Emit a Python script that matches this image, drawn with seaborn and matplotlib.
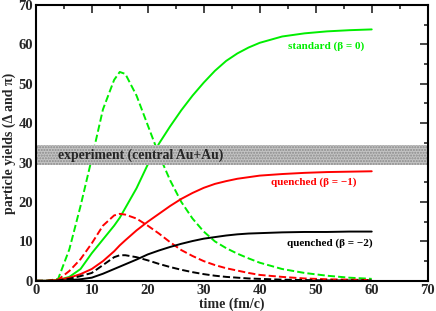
import matplotlib
matplotlib.use("Agg")
import matplotlib.pyplot as plt
import seaborn as sns
from matplotlib.ticker import MultipleLocator

# time grid (fm/c)
time = [0, 2, 4, 6, 8, 10, 12, 14, 15, 16, 18, 20, 22, 24, 26, 28, 30,
        32, 34, 36, 38, 40, 44, 48, 52, 56, 60]

# solid = final yields, dashed = yields present at time t
standard_solid = [0, 0, 0.2, 1, 3, 7, 10.5, 14, 16, 18.5, 23.5, 29.5, 34.8, 39.2, 43.3, 47,
                  50.3, 53.3, 55.8, 57.7, 59.2, 60.4, 62, 62.8, 63.3, 63.6, 63.8]
standard_dashed = [0, 0, 0.5, 8, 19, 31, 43.5, 51, 53, 52.5, 47, 39.5, 32, 25.5, 20, 15.8,
                   12.5, 10, 8.3, 6.9, 5.7, 4.6, 3, 2, 1.3, 0.8, 0.5]
q1_solid = [0, 0, 0.2, 0.8, 1.7, 3, 5, 7.5, 9, 10.3, 12.8, 15, 17, 19, 20.8, 22.3,
            23.6, 24.6, 25.3, 25.9, 26.3, 26.7, 27.1, 27.4, 27.6, 27.7, 27.8]
q1_dashed = [0, 0, 0.3, 2.5, 5.5, 9.5, 14, 16.6, 17, 16.8, 15.8, 14, 12, 9.8, 7.8, 6.3,
             5, 4, 3.2, 2.6, 2, 1.5, 1, 0.6, 0.4, 0.3, 0.2]
q2_solid = [0, 0, 0, 0.2, 0.4, 0.8, 1.8, 3, 3.6, 4.2, 5.4, 6.7, 7.7, 8.6, 9.4, 10.1,
            10.7, 11.1, 11.5, 11.8, 12, 12.1, 12.3, 12.4, 12.4, 12.5, 12.5]
q2_dashed = [0, 0, 0.1, 0.5, 1.2, 2, 4, 6, 6.5, 6.5, 6, 5.2, 4.3, 3.5, 2.8, 2.2,
             1.7, 1.3, 1, 0.8, 0.6, 0.5, 0.3, 0.2, 0.1, 0.1, 0.1]

experiment_band = (29.5, 34.5)

sns.set_style("white")
plt.rcParams["font.family"] = ["Liberation Serif", "DejaVu Serif"]
plt.rcParams["font.weight"] = "bold"

fig = plt.figure(figsize=(4.36, 3.11), dpi=100)
ax = fig.add_axes([0.082, 0.097, 0.899, 0.887])

# band sits on top of the curves, as in the original
ax.axhspan(*experiment_band, facecolor="#c4c4c4", edgecolor="#8a8a8a",
           hatch="......", linewidth=0, zorder=3)

series = [
    (standard_solid, "#00ee00", "-"), (standard_dashed, "#00ee00", "--"),
    (q1_solid, "#ff0000", "-"), (q1_dashed, "#ff0000", "--"),
    (q2_solid, "black", "-"), (q2_dashed, "black", "--"),
]
for vals, col, ls in series:
    sns.lineplot(x=time, y=vals, color=col, linestyle=ls, linewidth=1.4, ax=ax,
                 **({"dashes": (4.5, 2.2)} if ls == "--" else {}))

ax.text(3.9, 31.9, "experiment (central Au+Au)", fontsize=9.8, fontweight="bold",
        va="center", ha="left", zorder=4)
ax.text(58.6, 59.6, "standard (β = 0)", color="#00ee00", fontsize=8,
        fontweight="bold", ha="right", va="center")
ax.text(57.2, 25.1, "quenched (β = −1)", color="#ff0000", fontsize=8,
        fontweight="bold", ha="right", va="center")
ax.text(60.1, 9.5, "quenched (β = −2)", color="black", fontsize=8,
        fontweight="bold", ha="right", va="center")

ax.set_xlim(0, 70)
ax.set_ylim(0, 70)
ax.xaxis.set_major_locator(MultipleLocator(10))
ax.xaxis.set_minor_locator(MultipleLocator(5))
ax.yaxis.set_major_locator(MultipleLocator(10))
ax.yaxis.set_minor_locator(MultipleLocator(5))
ax.tick_params(which="both", direction="in", top=True, right=True,
               labelsize=10.5, width=1.2, pad=2)
ax.tick_params(which="major", length=6)
ax.tick_params(which="minor", length=3)
for lab in ax.get_xticklabels() + ax.get_yticklabels():
    lab.set_fontweight("bold")
for sp in ax.spines.values():
    sp.set_linewidth(1.5)
    sp.set_color("black")
    sp.set_zorder(5)

ax.set_xlabel("time (fm/c)", fontsize=10, fontweight="bold", labelpad=1)
ax.set_ylabel("particle yields (Δ and π)", fontsize=10, fontweight="bold", labelpad=2)

fig.savefig("out.png", dpi=100)
